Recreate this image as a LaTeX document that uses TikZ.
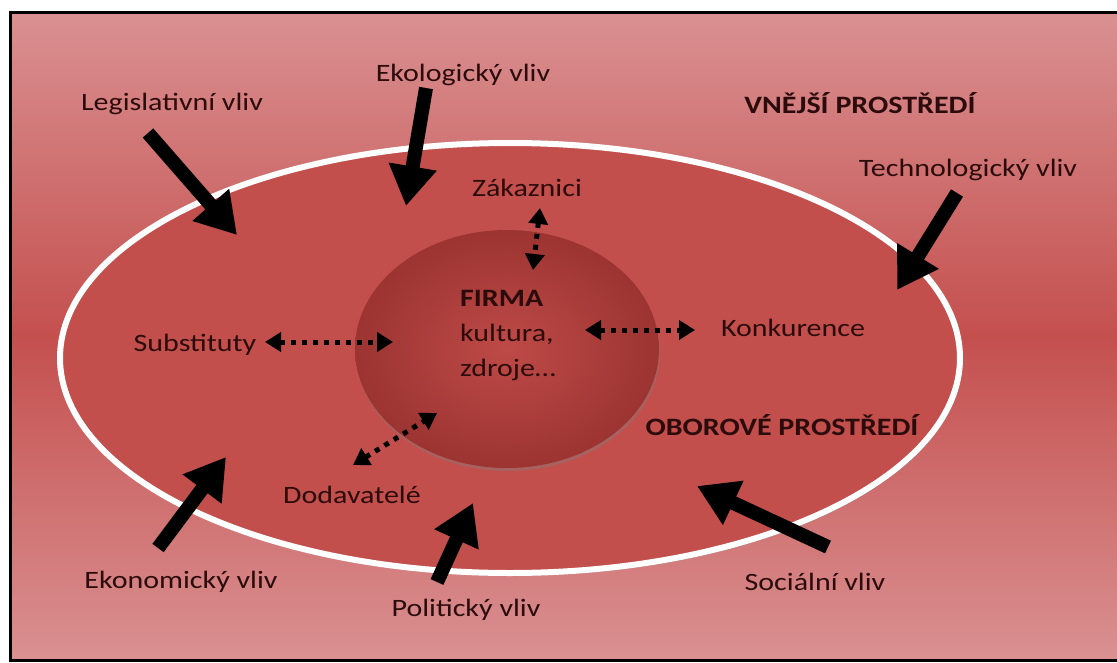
\documentclass[tikz,border=0pt]{standalone}
\usepackage{fontspec}
\setmainfont{Carlito}[FakeStretch=1.2]
\usetikzlibrary{arrows.meta,shadows}
\definecolor{bgl}{HTML}{DA9092}
\definecolor{bgd}{HTML}{C4504E}
\definecolor{ellfill}{HTML}{C24F4C}
\definecolor{firmin}{HTML}{BE4A47}
\definecolor{firmout}{HTML}{9C3432}
\definecolor{txt}{HTML}{2B0B0B}
\begin{document}
\begin{tikzpicture}[x=1pt,y=-1pt,
  lbl/.style={text=txt, font=\fontsize{25}{30}\selectfont, inner sep=0pt},
  blbl/.style={text=txt, font=\fontsize{25}{30}\selectfont\bfseries, inner sep=0pt},
  bigarrow/.style={line width=14pt, black, -{Triangle[width=46pt,length=40pt]}},
  dotarrow/.style={line width=5pt, black, dash pattern=on 5pt off 6pt,
     {Triangle[width=19pt,length=16pt]}-{Triangle[width=19pt,length=16pt]}}]
\useasboundingbox (0,0) rectangle (1117,662);
\fill[white] (0,0) rectangle (1117,662);
\path[top color=bgl, bottom color=bgl, middle color=bgd] (10,12) rectangle (1117,660);
\draw[line width=3pt, black] (1120,12) -- (10,12) -- (10,660) -- (1120,660);

% outer ellipse (industry environment)
\draw[white, line width=6pt, fill=ellfill,
  drop shadow={opacity=0.35, shadow xshift=2pt, shadow yshift=-3pt}]
  (510,358) ellipse [x radius=450pt, y radius=215pt];

% inner circle (firm)
\path[drop shadow={opacity=0.4, shadow xshift=1pt, shadow yshift=-3pt},
  inner color=firmin, outer color=firmout]
  (507,349) ellipse [x radius=152pt, y radius=119pt];

% labels
\node[lbl] (leg) at (172,104) {Legislativní vliv};
\node[lbl] (eko) at (463,75) {Ekologický vliv};
\node[blbl] (vne) at (860,103) {VNĚJŠÍ PROSTŘEDÍ};
\node[lbl] (tech) at (968,170) {Technologický vliv};
\node[lbl] (zak) at (527,188) {Zákaznici};
\node[lbl, align=left, anchor=west, font=\fontsize{25}{35}\selectfont] (firma) at (460,336)
  {\textbf{FIRMA}\\kultura,\\zdroje…};
\node[lbl] (sub) at (195,345) {Substituty};
\node[lbl] (kon) at (793,328) {Konkurence};
\node[blbl] (obo) at (782,425) {OBOROVÉ PROSTŘEDÍ};
\node[lbl] (dod) at (352,495) {Dodavatelé};
\node[lbl] (ekon) at (181,582) {Ekonomický vliv};
\node[lbl] (pol) at (466,610) {Politický vliv};
\node[lbl] (soc) at (815,582) {Sociální vliv};

% big influence arrows
\coordinate (legT) at (148,133); \coordinate (legH) at (237,235);
\coordinate (ekoT) at (426,88);  \coordinate (ekoH) at (406,206);
\coordinate (techT) at (957,193); \coordinate (techH) at (897,290);
\coordinate (ekonT) at (158,548); \coordinate (ekonH) at (226,457);
\coordinate (polT) at (437,582); \coordinate (polH) at (473,503);
\coordinate (socT) at (828,547); \coordinate (socH) at (697,486);
\draw[bigarrow] (legT) -- (legH);
\draw[bigarrow] (ekoT) -- (ekoH);
\draw[bigarrow] (techT) -- (techH);
\draw[bigarrow] (ekonT) -- (ekonH);
\draw[bigarrow] (polT) -- (polH);
\draw[bigarrow] (socT) -- (socH);

% dotted two-way arrows
\coordinate (zakA) at (540,208); \coordinate (zakB) at (533,270);
\coordinate (subA) at (265,342); \coordinate (subB) at (393,342);
\coordinate (konA) at (585,330); \coordinate (konB) at (695,330);
\coordinate (dodA) at (353,465); \coordinate (dodB) at (437,413);
\draw[dotarrow] (zakA) -- (zakB);
\draw[dotarrow] (subA) -- (subB);
\draw[dotarrow] (konA) -- (konB);
\draw[dotarrow] (dodA) -- (dodB);
\end{tikzpicture}
\end{document}
